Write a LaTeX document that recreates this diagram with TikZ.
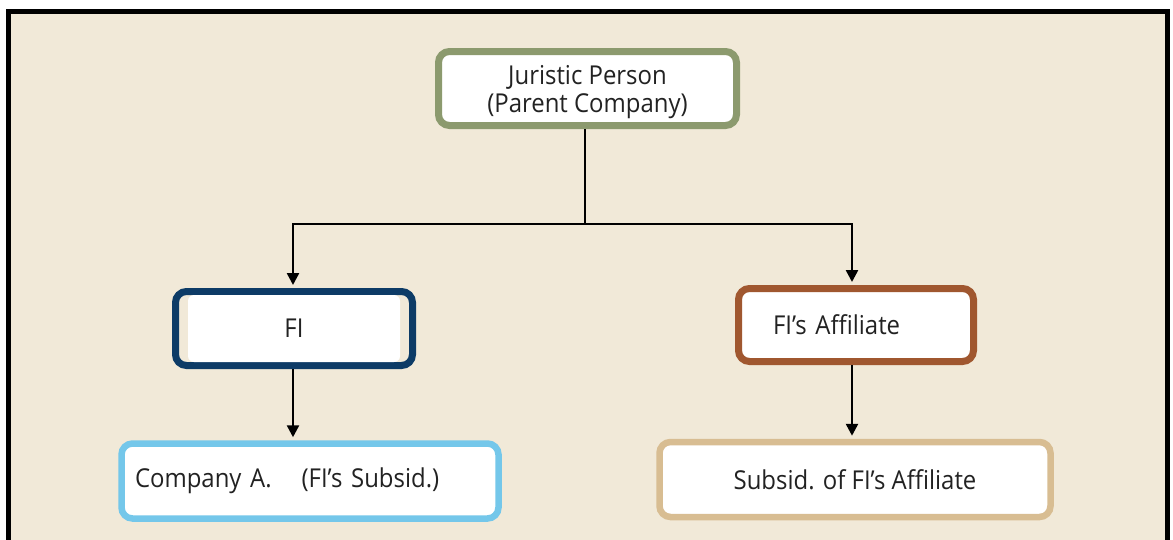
\documentclass[tikz,border=0pt]{standalone}
\usepackage{fontspec}
\setmainfont[FakeStretch=0.92]{Open Sans}
\usetikzlibrary{arrows.meta}
\definecolor{bgbeige}{HTML}{F1E9D8}
\definecolor{olivec}{HTML}{8C9A6E}
\definecolor{navyc}{HTML}{0D3B66}
\definecolor{brownc}{HTML}{A0572F}
\definecolor{lblue}{HTML}{74C7EA}
\definecolor{tanc}{HTML}{D8BD92}
\definecolor{txt}{HTML}{222222}
\tikzset{
  box/.style={draw, rectangle, rounded corners=11pt, line width=7pt, fill=white,
    text=txt, font=\fontsize{26}{28}\selectfont},
  conn/.style={line width=2.5pt, black},
  arr/.style={conn, -{Triangle[width=12pt,length=12pt]}, shorten >=3pt}
}
\begin{document}
\begin{tikzpicture}[x=1pt,y=-1pt]
\useasboundingbox (0,0) rectangle (1173,539);
\fill[white] (0,0) rectangle (1173,539);
\fill[bgbeige] (8.5,11.3) rectangle (1167.5,545);
\draw[line width=4.5pt] (8.5,545) -- (8.5,11.3) -- (1167.5,11.3) -- (1167.5,545);

\node[box, draw=olivec, minimum width=298pt, minimum height=74pt]
  (parent) at (587.5,88.5) {\raisebox{-4pt}[\height][\depth]{\begin{tabular}{@{}c@{}}Juristic Person\\(Parent Company)\end{tabular}}};

\node[box, draw=navyc, fill=bgbeige, minimum width=237pt, minimum height=74pt]
  (fi) at (294,328.5) {};
\fill[white, rounded corners=6pt] (188,295) rectangle (400,362);
\node[text=txt, font=\fontsize{26}{28}\selectfont] (fitext) at (fi.center) {FI};

\node[box, draw=brownc, minimum width=235pt, minimum height=73pt,
  inner xsep=34.5pt, text width=166pt, align=left]
  (aff) at (856,325) {FI’s Affiliate};

\node[box, draw=lblue, line width=6.5pt, minimum width=377pt, minimum height=75pt,
  inner xsep=13.5pt, text width=350pt, align=left]
  (coa) at (310,481) {Company A.\hspace{30pt}(FI’s Subsid.)};

\node[box, draw=tanc, line width=6.5pt, minimum width=391pt, minimum height=75pt]
  (sub) at (855,479.5) {Subsid. of FI’s Affiliate};

\coordinate (j) at (585,224);
\coordinate (fitop) at (293,288);
\coordinate (afftop) at (852,287);
\draw[conn] (parent.south -| j) -- (j);
\draw[arr] (j) -| (fi.north -| fitop);
\draw[arr] (j) -| (aff.north -| afftop);
\draw[arr] (fi.south -| fitop) -- (coa.north -| fitop);
\draw[arr] (aff.south -| afftop) -- (sub.north -| afftop);
\end{tikzpicture}
\end{document}
